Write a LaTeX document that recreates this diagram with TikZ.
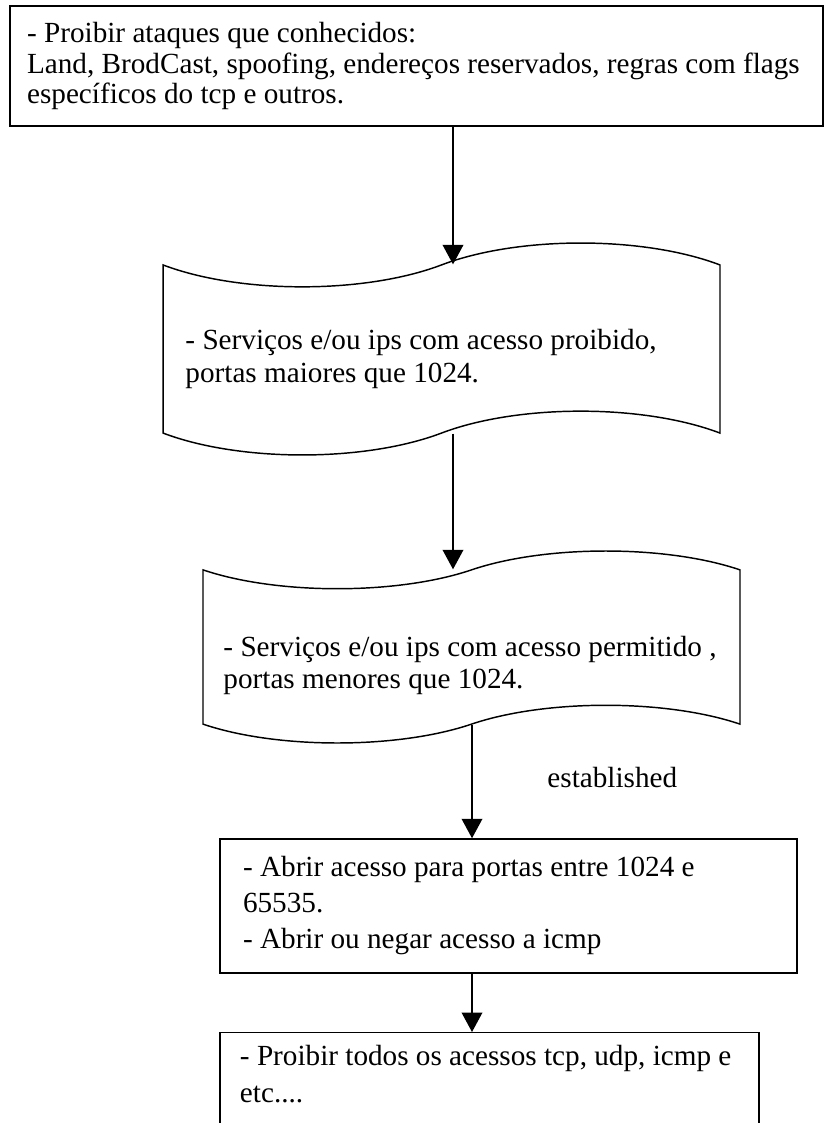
\documentclass[tikz,border=0pt]{standalone}
\usepackage{fontspec}
\setmainfont{Liberation Serif}
\usetikzlibrary{arrows.meta,shapes.symbols}

\tikzset{
  caixa/.style={draw, line width=0.6pt, rectangle, align=flush left, inner ysep=0pt},
  fita/.style={draw, line width=0.6pt, tape, tape bend top=in and out,
    tape bend bottom=in and out, inner sep=0pt},
  texto/.style={align=flush left, inner sep=0pt, anchor=west},
  seta/.style={line width=0.6pt, -{Triangle[length=8pt,width=8.5pt]}}
}

\begin{document}
\begin{tikzpicture}[x=0.411pt, y=-0.411pt]
  \useasboundingbox (0,0) rectangle (824,1123);

  % regras do firewall, de cima para baixo
  \node[caixa, minimum width=334.1pt, minimum height=49.3pt, text width=320.1pt,
    inner xsep=7pt, font=\fontsize{12}{12.5}\selectfont] (ataques) at (416.5,66) {%
    - Proibir ataques que conhecidos:\\
    Land, BrodCast, spoofing, endereços reservados, regras com flags\\
    específicos do tcp e outros.};

  \node[fita, minimum width=228.9pt, minimum height=87.1pt,
    tape bend height=18pt] (proibido) at (441.5,349) {};
  \node[texto, font=\fontsize{12}{13.2}\selectfont] (proibtxt) at (185,359) {%
    - Serviços e/ou ips com acesso proibido,\\
    portas maiores que 1024.};

  \node[fita, minimum width=220.7pt, minimum height=78.9pt,
    tape bend height=15.5pt] (permitido) at (471.5,647) {};
  \node[texto, font=\fontsize{12}{13.2}\selectfont] (permtxt) at (223,665.5) {%
    - Serviços e/ou ips com acesso permitido ,\\
    portas menores que 1024.};

  \node[caixa, minimum width=237.1pt, minimum height=55.1pt, text width=218.2pt,
    inner xsep=9.45pt, font=\fontsize{12}{14.8}\selectfont] (abrir) at (508.5,906) {%
    - Abrir acesso para portas entre 1024 e\\
    65535.\\
    - Abrir ou negar acesso a icmp};

  \node[caixa, anchor=north, text width=205.1pt, inner xsep=8.2pt, inner ysep=5.3pt,
    text depth=18.5pt, font=\fontsize{12}{15.2}\selectfont] (todos) at (489.5,1032) {%
    - Proibir todos os acessos tcp, udp, icmp e\\
    etc....};

  \coordinate (eixo1) at (453,0);
  \coordinate (eixo2) at (472,0);

  \draw[seta] (ataques.south -| eixo1) -- (proibido.north -| eixo1);
  \draw[seta] (proibido.south -| eixo1) -- (permitido.north -| eixo1);
  \draw[seta] (permitido.south -| eixo2) -- (abrir.north -| eixo2);
  \draw[seta] (abrir.south -| eixo2) -- (todos.north -| eixo2);

  \node[texto, font=\fontsize{12}{14}\selectfont] (estab) at (547,778) {established};
\end{tikzpicture}
\end{document}
